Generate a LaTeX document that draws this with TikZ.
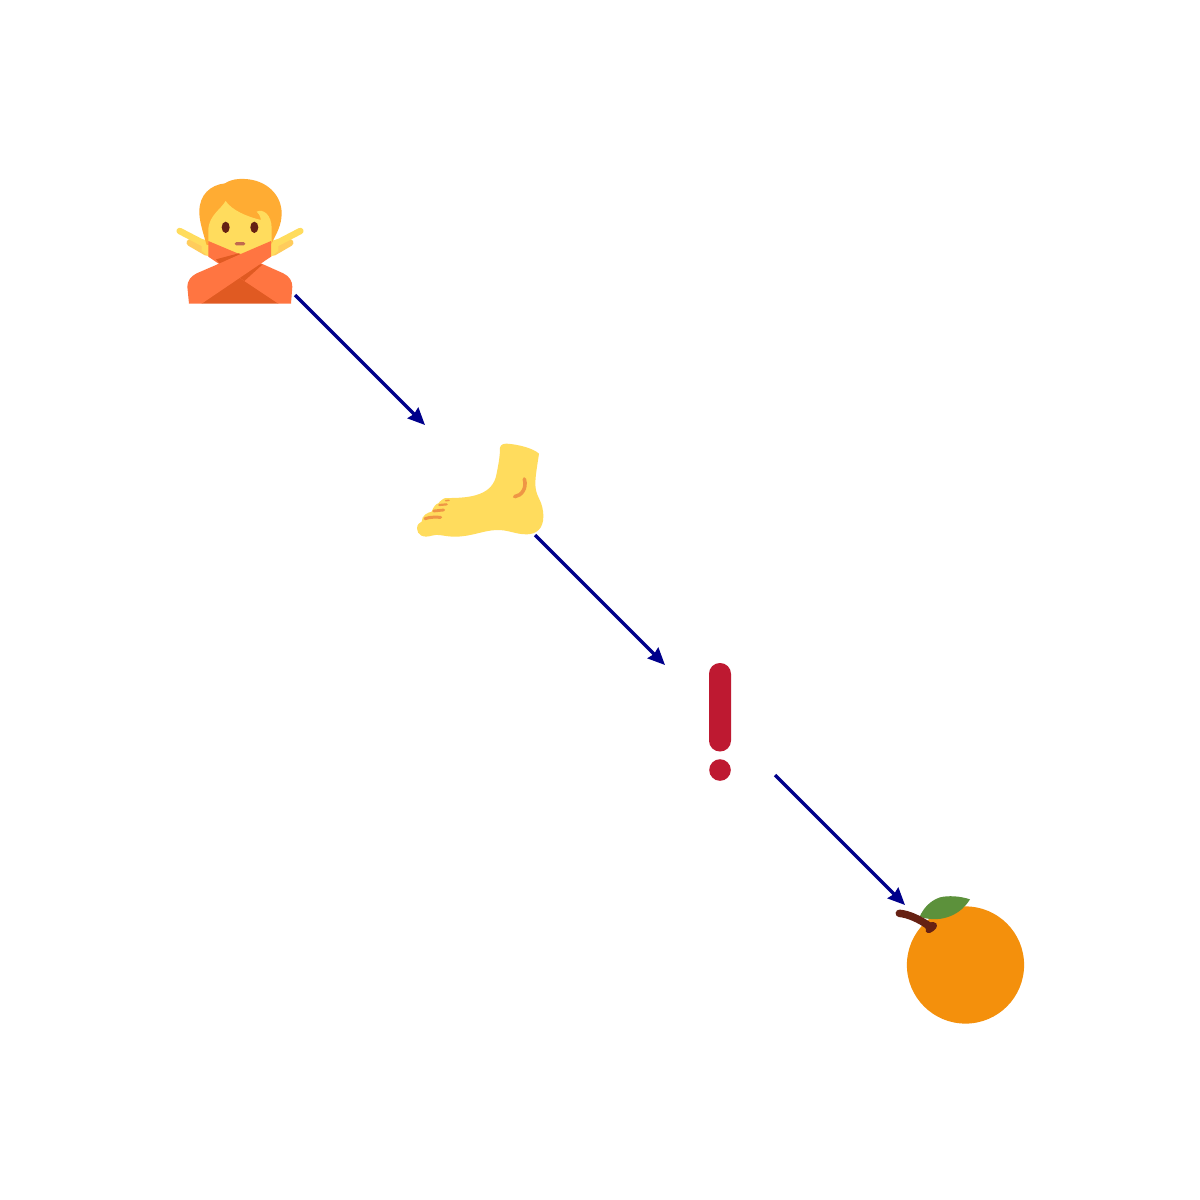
\documentclass[tikz,border=0pt]{standalone}
\usetikzlibrary{arrows.meta}
\definecolor{hair}{HTML}{FFAC33}
\definecolor{skin}{HTML}{FFDC5D}
\definecolor{skindark}{HTML}{FFCC5C}
\definecolor{shirt}{HTML}{FF7541}
\definecolor{shirtdark}{HTML}{E05A22}
\definecolor{eye}{HTML}{662113}
\definecolor{mouthc}{HTML}{C1694F}
\definecolor{nail}{HTML}{EF9645}
\definecolor{bangred}{HTML}{BE1931}
\definecolor{orangefruit}{HTML}{F4900C}
\definecolor{leafc}{HTML}{5C913B}
\definecolor{linkc}{HTML}{00008B}
\tikzset{
  iconbox/.style={minimum size=110pt,inner sep=0pt,outer sep=0pt},
  link/.style={draw=linkc,line width=3.2pt,-{Stealth[length=17pt,width=15pt,inset=1.5pt]}},
  zoomed/.style={x=0.33333pt,y=-0.33333pt}
}
\begin{document}
\begin{tikzpicture}[x=1pt,y=-1pt]
\useasboundingbox (0,0) rectangle (1200,1200);
\fill[white] (0,0) rectangle (1200,1200);

% person
\begin{scope}[shift={(160,165)},zoomed]
  \draw[skindark,line width=7pt,line cap=round] (90,233) -- (140,262);
  \draw[skindark,line width=7pt,line cap=round] (390,233) -- (340,262);
  \draw[skin,line width=6.5pt,line cap=round] (59,198) -- (140,240);
  \draw[skin,line width=6.5pt,line cap=round] (421,198) -- (340,240);
  \fill[skin] (125,222) -- (148,228) -- (148,276) -- (125,258) -- cycle;
  \fill[skin] (355,222) -- (332,228) -- (332,276) -- (355,258) -- cycle;
  \fill[hair] (140,240) .. controls (125,190) and (118,165) .. (118,140)
     .. controls (118,90) and (150,60) .. (195,55)
     .. controls (215,42) and (235,41) .. (255,42)
     .. controls (320,45) and (365,90) .. (365,145)
     .. controls (365,180) and (350,205) .. (335,235) -- cycle;
  \fill[skin] (145,232) -- (145,190) .. controls (150,150) and (180,135) .. (197,108)
     .. controls (215,135) and (260,155) .. (303,165)
     .. controls (300,150) and (295,145) .. (290,140)
     .. controls (310,130) and (335,150) .. (335,190)
     -- (335,232) -- (240,275) -- cycle;
  \fill[eye] (197,187) ellipse [x radius=12,y radius=17];
  \fill[eye] (283,187) ellipse [x radius=12,y radius=17];
  \fill[mouthc,rounded corners=1.6pt] (224,231) rectangle (256,241);
  % body shadow
  \fill[shirtdark] (125,416) -- (170,300) -- (240,268) -- (305,298) -- (355,416) -- cycle;
  % arm from the upper left
  \fill[shirt] (145,228) -- (240,268) -- (305,296)
     -- (370,325) .. controls (388,334) and (397,348) .. (397,365)
     -- (393,416) -- (355,416) -- (253,348) -- (145,275) -- cycle;
  \fill[shirtdark] (168,283) -- (236,265) -- (250,270) -- (180,297) -- cycle;
  \fill[shirtdark] (253,348) -- (308,298) -- (275,298) -- (235,335) -- cycle;
  % arm from the upper right
  \fill[shirt] (125,416) -- (333,275) -- (333,228) -- (240,268) -- (175,297)
     -- (110,325) .. controls (92,334) and (82,348) .. (82,365)
     -- (87,416) -- cycle;
\end{scope}

% foot
\begin{scope}[shift={(405,405)},zoomed]
  \fill[skin] (285,128) .. controls (288,118) and (295,116) .. (305,116)
     .. controls (340,118) and (385,130) .. (402,146)
     .. controls (398,175) and (388,225) .. (392,250)
     .. controls (396,280) and (415,290) .. (415,335)
     .. controls (415,370) and (395,388) .. (365,388)
     .. controls (330,388) and (310,374) .. (275,375)
     .. controls (235,376) and (200,395) .. (150,395)
     .. controls (115,395) and (100,385) .. (80,392)
     .. controls (55,400) and (36,390) .. (36,370)
     .. controls (36,358) and (45,352) .. (50,350)
     .. controls (50,330) and (70,322) .. (80,320)
     .. controls (85,305) and (95,295) .. (100,295)
     .. controls (105,288) and (115,280) .. (122,279)
     .. controls (200,280) and (265,270) .. (275,205)
     .. controls (282,170) and (285,150) .. (285,128) -- cycle;
  \begin{scope}[nail,line cap=round]
    \draw[line width=3pt] (60,341) .. controls (75,336) and (90,336) .. (107,337);
    \draw[line width=2.8pt] (86,318) -- (116,315);
    \draw[line width=2.2pt] (103,300) -- (125,298);
    \draw[line width=1.5pt] (122,287) -- (132,286);
    \draw[line width=3.6pt] (358,222) .. controls (366,250) and (350,272) .. (329,275);
  \end{scope}
\end{scope}

% exclamation mark
\fill[bangred,rounded corners=10.9pt] (709,663) rectangle (731,751.5);
\fill[bangred] (720,770) circle (10.8);

% orange
\fill[orangefruit] (965.5,965) circle (58.6);
\begin{scope}[shift={(880,880)},zoomed]
  \fill[leafc] (270,58) .. controls (240,48) and (205,46) .. (180,52)
     .. controls (150,62) and (130,85) .. (119,110)
     .. controls (170,128) and (235,115) .. (270,58) -- cycle;
  \draw[eye,line width=7.5pt,line cap=round] (58,100) .. controls (85,102) and (120,118) .. (150,140);
  \fill[eye] (128,130) -- (160,126) .. controls (176,128) and (173,145) .. (160,153)
     .. controls (148,164) and (132,158) .. (138,148) -- cycle;
\end{scope}

% invisible layout nodes and connectors
\node[iconbox] (person) at (240,240) {};
\node[iconbox] (foot) at (480,480) {};
\node[iconbox] (bang) at (720,720) {};
\node[iconbox] (fruit) at (960,960) {};
\draw[link] (person.south east) -- (foot.north west);
\draw[link] (foot.south east) -- (bang.north west);
\draw[link] (bang.south east) -- (fruit.north west);
\end{tikzpicture}
\end{document}
